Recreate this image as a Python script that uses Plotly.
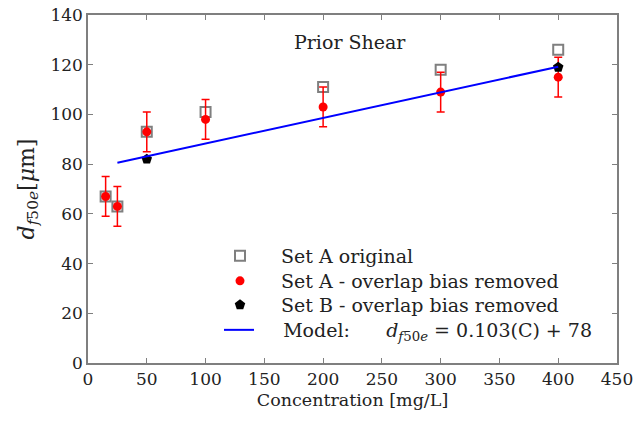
import plotly.graph_objects as go

# Data
conc_a = [15, 25, 50, 100, 200, 300, 400]
set_a_original = [67, 63, 93, 101, 111, 118, 126]
set_a_removed = [67, 63, 93, 98, 103, 109, 115]
set_a_err = [8, 8, 8, 8, 8, 8, 8]
conc_b = [50, 400]
set_b_removed = [82, 119]
model_x = [25, 400]
model_y = [80.6, 119.2]

x_ticks = [0, 50, 100, 150, 200, 250, 300, 350, 400, 450]
y_ticks = [0, 20, 40, 60, 80, 100, 120, 140]

FONT = "DejaVu Serif"
GRAY = "#7f7f7f"
TXT = "#222"

fig = go.Figure()
fig.add_trace(go.Scatter(
    x=conc_a, y=set_a_original, mode="markers", name="Set A original",
    marker=dict(symbol="square-open", size=10, color=GRAY, line=dict(width=2, color=GRAY)),
    legend="legend",
))
fig.add_trace(go.Scatter(
    x=conc_a, y=set_a_removed, mode="markers", name="Set A - overlap bias removed",
    marker=dict(symbol="circle", size=9, color="red"),
    error_y=dict(type="data", array=set_a_err, color="red", thickness=1.5, width=4),
    legend="legend2",
))
fig.add_trace(go.Scatter(
    x=conc_b, y=set_b_removed, mode="markers", name="Set B - overlap bias removed",
    marker=dict(symbol="pentagon", size=11, color="black"),
    legend="legend3",
))
fig.add_trace(go.Scatter(
    x=model_x, y=model_y, mode="lines",
    name="&nbsp;&nbsp;&nbsp;&nbsp;Model:      <i>d</i><sub><i>f</i>50<i>e</i></sub> = 0.103(C) + 78",
    line=dict(color="blue", width=2),
    legend="legend4",
))

axis_common = dict(
    showline=True, linecolor=GRAY, linewidth=1.5, mirror="ticks",
    ticks="inside", ticklen=5, tickcolor=GRAY, tickwidth=1.2,
    showgrid=False, zeroline=False, automargin=False,
    tickfont=dict(family=FONT, size=17, color=TXT),
)

def leg(ypx, xpx=199, iw=72):
    return dict(
        x=(xpx - 88) / 529, y=(363 - ypx) / 348, xanchor="left", yanchor="middle",
        bgcolor="rgba(0,0,0,0)", borderwidth=0,
        font=dict(family=FONT, size=19, color=TXT),
        itemwidth=iw,
    )

fig.update_layout(
    width=636, height=422,
    margin=dict(l=88, r=19, t=15, b=59, autoexpand=False),
    paper_bgcolor="white", plot_bgcolor="white",
    font=dict(family=FONT, size=17, color=TXT),
    showlegend=True,
    legend=leg(256), legend2=leg(281), legend3=leg(305), legend4=leg(330, 219, 30),
    xaxis=dict(
        range=[0, 450], tickvals=x_ticks,
        title=dict(text="Concentration [mg/L]", font=dict(family=FONT, size=17.5), standoff=6),
        **axis_common,
    ),
    yaxis=dict(
        range=[0, 140], tickvals=y_ticks,
        title=dict(text="<i>d</i><sub><i>f</i>50<i>e</i></sub>[<i>μ</i>m]",
                   font=dict(family=FONT, size=22), standoff=10),
        **axis_common,
    ),
    annotations=[dict(
        x=223, y=129, xref="x", yref="y", text="Prior Shear", showarrow=False,
        font=dict(family=FONT, size=19, color=TXT),
    )],
)

fig.write_html("out.html")
